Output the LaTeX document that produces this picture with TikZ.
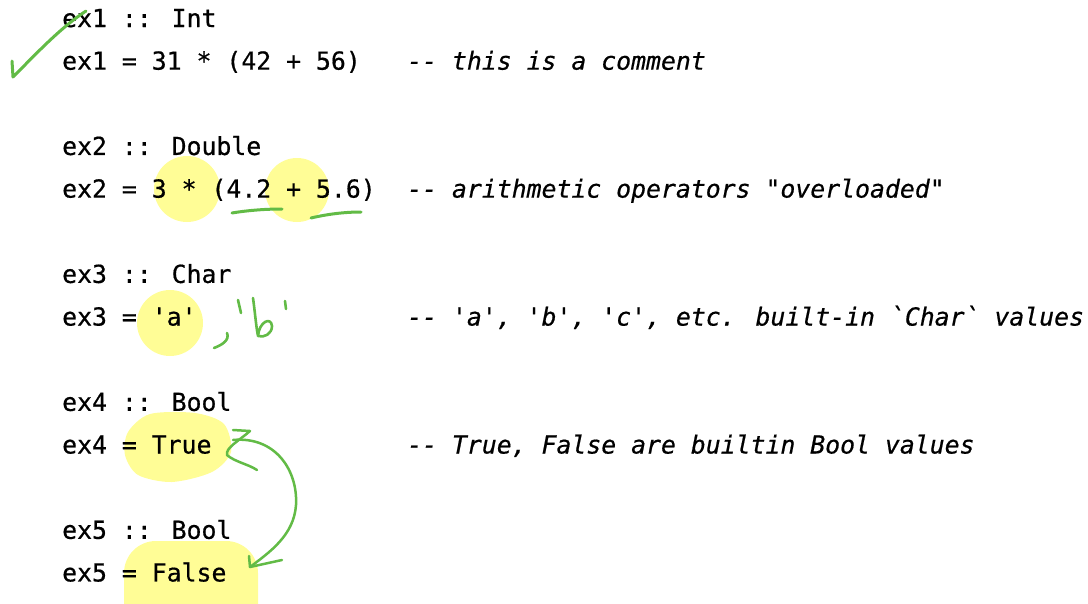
\documentclass[tikz,border=0pt]{standalone}
\usepackage{fontspec}
\newfontfamily\codefont[FakeBold=0.6]{DejaVu Sans Mono}
\definecolor{hlyellow}{RGB}{255,253,150}
\definecolor{pengreen}{RGB}{98,187,70}
\begin{document}
\begin{tikzpicture}[x=1pt,y=-1pt,
  codetext/.style={anchor=base west, inner sep=0pt, font=\codefont\fontsize{24.8}{30}\selectfont},
  commenttext/.style={anchor=base west, inner sep=0pt, font=\codefont\itshape\fontsize{24.8}{30}\selectfont},
  hl/.style={fill=hlyellow, draw=none},
  pen/.style={draw=pengreen, line width=3pt, line cap=round, line join=round}]
\useasboundingbox (0,0) rectangle (1088,603);
% highlights
\fill[hl] (187,189) circle (33);
\fill[hl] (297,190) circle (32);
\fill[hl] (170,323) circle (33);
\fill[hl] plot[smooth cycle] coordinates {(128,432) (150,414) (195,413) (224,424) (231,452) (212,472) (172,482) (138,475) (125,455)};
\begin{scope}
\clip (0,0) rectangle (1088,603);
\fill[hl, rounded corners=32] (124,541) rectangle (258,640);
\end{scope}
% code
\def\cx{62}
\def\mx{407}
\node[codetext] (l1) at (\cx,27) {ex1 :: Int};
\node[codetext] (l2) at (\cx,69.65) {ex1 = 31 * (42 + 56)};
\node[commenttext] (c2) at (\mx,69.65) {-- this is a comment};
\node[codetext] (l4) at (\cx,154.95) {ex2 :: Double};
\node[codetext] (l5) at (\cx,197.6) {ex2 = 3 * (4.2 + 5.6)};
\node[commenttext] (c5) at (\mx,197.6) {-- arithmetic operators "overloaded"};
\node[codetext] (l7) at (\cx,282.9) {ex3 :: Char};
\node[codetext] (l8) at (\cx,325.55) {ex3 = 'a'};
\node[commenttext] (c8) at (\mx,325.55) {-- 'a', 'b', 'c', etc. built-in `Char` values};
\node[codetext] (l10) at (\cx,410.85) {ex4 :: Bool};
\node[codetext] (l11) at (\cx,453.5) {ex4 = True};
\node[commenttext] (c11) at (\mx,453.5) {-- True, False are builtin Bool values};
\node[codetext] (l13) at (\cx,538.8) {ex5 :: Bool};
\node[codetext] (l14) at (\cx,581.45) {ex5 = False};
% pen annotations
\draw[pen] (12,61) -- (13,77) .. controls (35,55) and (60,28) .. (86,11);
\draw[pen] (232,213) .. controls (250,210) and (268,209) .. (282,209);
\draw[pen] (311,218) .. controls (328,214) and (345,212) .. (361,212);
\draw[pen, line width=2.6pt] (227,333) .. controls (230,340) and (222,345) .. (214,348);
\draw[pen, line width=2.6pt] (238,300) -- (241,313);
\draw[pen, line width=2.6pt] (253,298) .. controls (255,312) and (256,326) .. (258,336)
  .. controls (259,322) and (271,316) .. (272,326) .. controls (272,334) and (264,338) .. (258,336);
\draw[pen, line width=2.6pt] (285,301) -- (286,309);
% True -> False scribble arrow
\coordinate (tz) at (233,440);
\coordinate (fz) at (250,567);
\draw[pen, line width=2.5pt] (233,430) -- (250,431) .. controls (240,440) and (225,448) .. (227,455) .. controls (235,462) and (248,464) .. (257,470);
\draw[pen, line width=2.5pt] (tz) .. controls (275,436) and (298,470) .. (296,505) .. controls (294,535) and (270,552) .. (fz);
\draw[pen, line width=2.5pt] (249,556) -- (fz) -- (282,560);
\end{tikzpicture}
\end{document}
